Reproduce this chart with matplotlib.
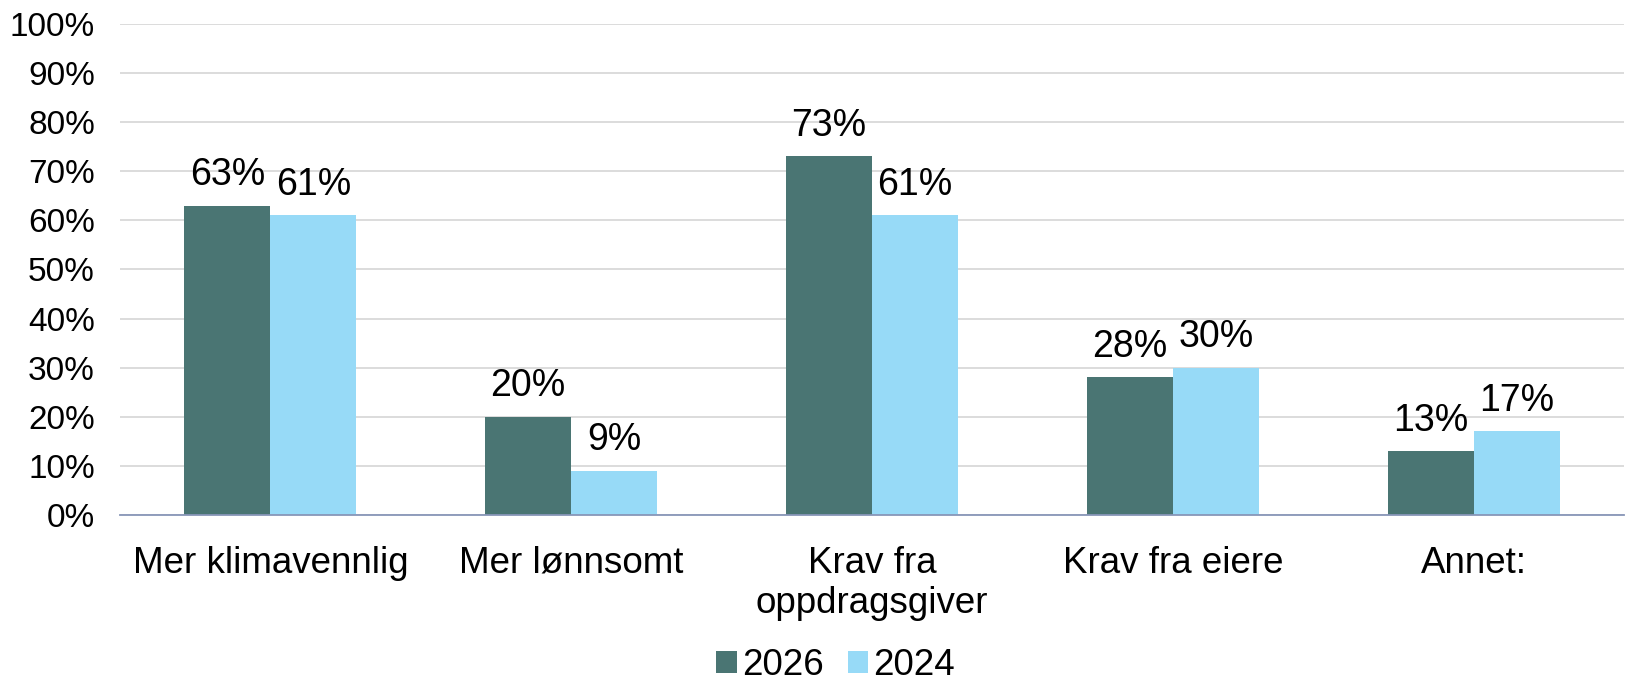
import numpy as np
import matplotlib.pyplot as plt

plt.rcParams['font.family'] = ['Liberation Sans', 'DejaVu Sans']

categories = ['Mer klimavennlig', 'Mer lønnsomt', 'Krav fra\noppdragsgiver', 'Krav fra eiere', 'Annet:']
v2026 = [63, 20, 73, 28, 13]
v2024 = [61, 9, 61, 30, 17]

c_dark = '#4A7573'
c_light = '#97DAF7'

fig = plt.figure(figsize=(16.26, 6.83), dpi=100)
ax = fig.add_axes([0.0738, 0.246, 0.925, 0.719])

x = np.arange(len(categories))
w = 0.286
b1 = ax.bar(x - w/2, v2026, w, color=c_dark, label='2026', zorder=3)
b2 = ax.bar(x + w/2, v2024, w, color=c_light, label='2024', zorder=3)

for bars in (b1, b2):
    for r in bars:
        ax.annotate(f'{r.get_height():.0f}%', (r.get_x() + r.get_width()/2, r.get_height()),
                    xytext=(0, 9), textcoords='offset points', ha='center', va='bottom',
                    fontsize=27)

ax.set_xlim(-0.5, len(categories) - 0.5)
ax.set_ylim(0, 100)
ax.set_yticks(range(0, 101, 10))
ax.set_yticklabels([f'{t}%' for t in range(0, 101, 10)], fontsize=24)
ax.set_xticks(x)
ax.set_xticklabels(categories, fontsize=26.5, linespacing=1.2)
ax.tick_params(axis='x', length=0, pad=22)
ax.tick_params(axis='y', length=0, pad=18)
ax.yaxis.grid(True, color='#D9D9D9', linewidth=1.3, zorder=0)
for s in ['top', 'right', 'left']:
    ax.spines[s].set_visible(False)
ax.spines['bottom'].set_color('#8896B8')
ax.spines['bottom'].set_linewidth(1.3)
ax.spines['bottom'].set_zorder(4)

fig.legend(handles=[b1, b2], loc='center', bbox_to_anchor=(0.514, 0.025), ncol=2,
           frameon=False, fontsize=26.5, handlelength=0.55, handleheight=0.55,
           handletextpad=0.15, columnspacing=0.65, borderpad=0)

fig.savefig('out.png', dpi=100)
